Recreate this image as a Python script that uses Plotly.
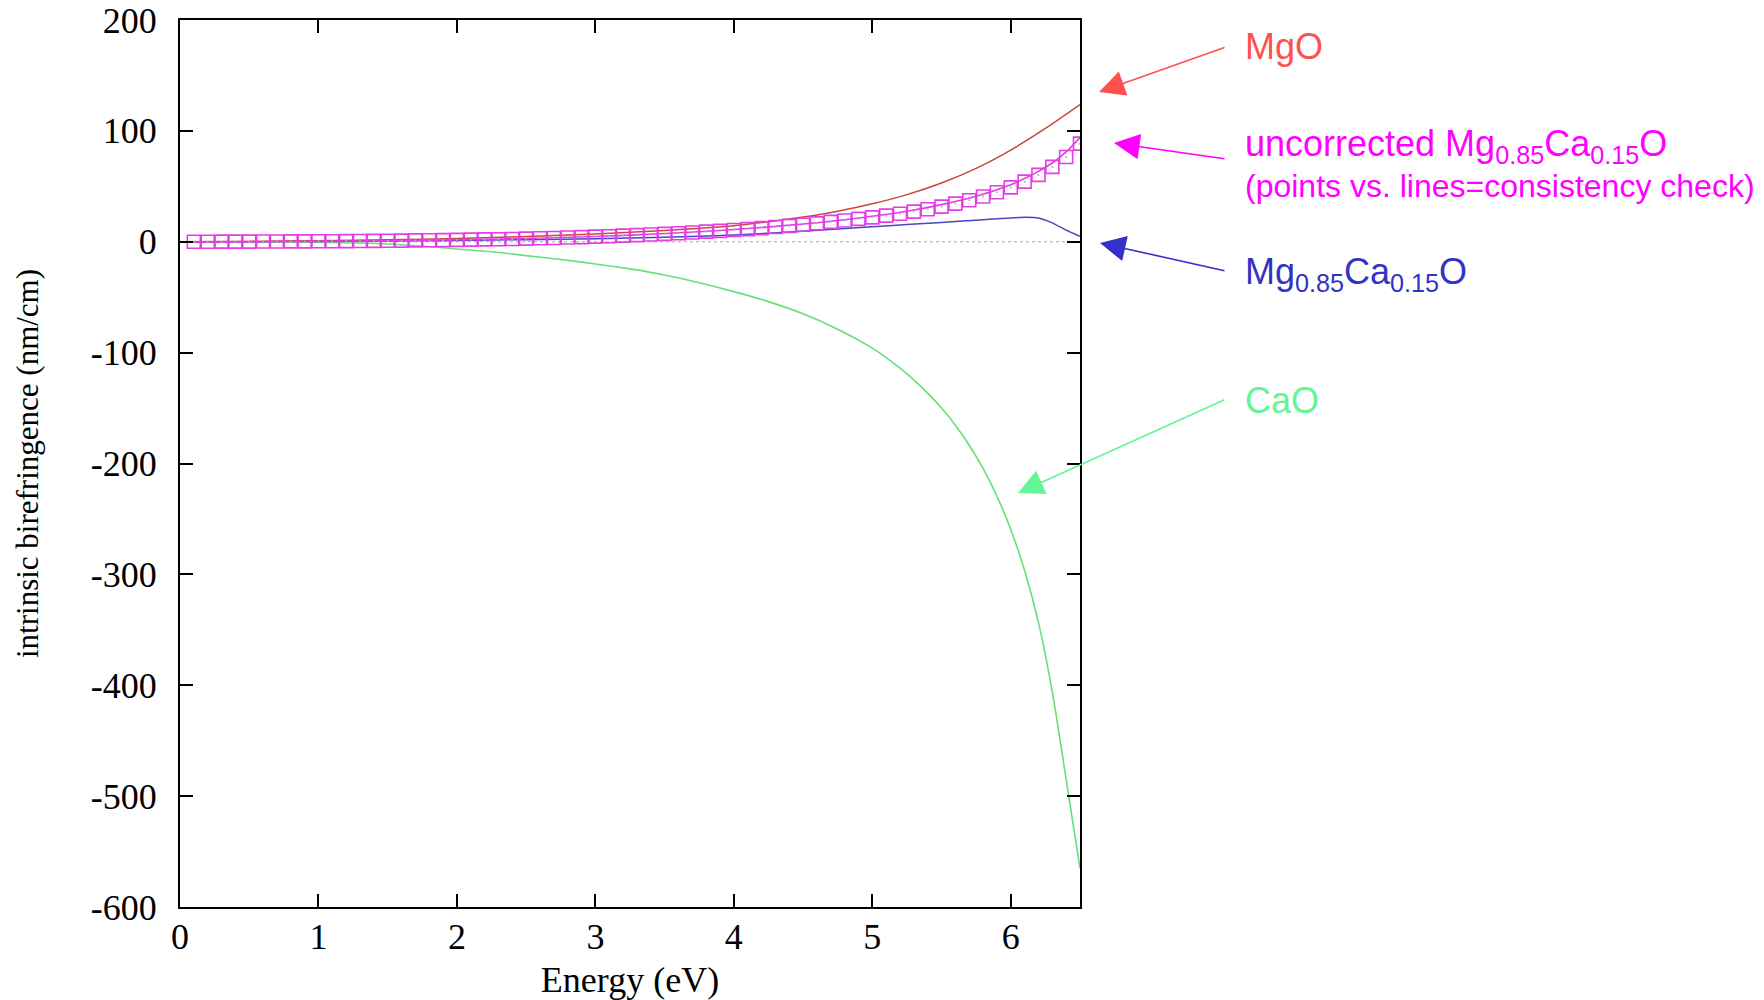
import plotly.graph_objects as go

# ---------------- data ----------------
mgo_E = [0.0, 0.5, 1.0, 1.5, 2.0, 2.5, 3.0, 3.5, 4.0, 4.25, 4.5, 4.75, 5.0, 5.25, 5.5, 5.75, 6.0, 6.25, 6.5]
mgo_B = [0.0, 0.3, 0.9, 1.8, 3.0, 4.7, 7.0, 10.2, 14.5, 18.0, 22.3, 27.6, 34.2, 42.5, 53.0, 66.2, 82.7, 102.2, 123.7]

mix_E = [0.0, 0.5, 1.0, 1.5, 2.0, 2.5, 3.0, 3.5, 4.0, 4.5, 5.0, 5.25, 5.5, 5.75, 6.0, 6.1, 6.2, 6.3, 6.4, 6.5]
mix_B = [0.0, 0.1, 0.3, 0.7, 1.2, 1.9, 2.8, 4.0, 6.0, 9.5, 13.5, 15.5, 17.3, 19.5, 21.5, 22.0, 21.5, 17.0, 10.5, 5.0]

cao_E = [0.0, 0.5, 1.0, 1.5, 1.75, 2.0, 2.25, 2.5, 2.75, 3.0, 3.25, 3.5, 3.75, 4.0, 4.25, 4.5, 4.75,
         5.0, 5.1, 5.2, 5.3, 5.4, 5.5, 5.6, 5.7, 5.8, 5.9, 6.0, 6.1, 6.2, 6.3, 6.4, 6.5]
cao_B = [0.0, 0.0, -0.5, -2.0, -4.0, -6.5, -9.0, -12.5, -16.0, -20.0, -24.5, -30.0, -37.0, -45.0, -54.0, -65.0, -79.0,
         -96.0, -104.5, -114.0, -124.5, -136.5, -150.0, -165.5, -183.5, -204.5, -229.5, -259.5, -296.5, -343.5,
         -406.0, -485.0, -565.0]

unc_line_E = [0.0, 0.5, 1.0, 1.5, 2.0, 2.5, 3.0, 3.5, 4.0, 4.5, 4.75, 5.0, 5.25, 5.5, 5.75, 6.0, 6.1, 6.2, 6.3, 6.4, 6.5]
unc_line_B = [0.0, 0.1, 0.4, 0.9, 1.8, 2.9, 4.8, 7.4, 11.0, 16.0, 19.2, 23.0, 27.5, 33.5, 41.0, 51.5, 57.0, 63.5, 71.0, 81.0, 94.0]

unc_pts_E = [round(0.1 * i, 1) for i in range(1, 66)]
unc_pts_B = [0.0, 0.0, 0.1, 0.1, 0.1, 0.2, 0.2, 0.3, 0.3, 0.4,
             0.5, 0.6, 0.7, 0.8, 0.9, 1.0, 1.2, 1.3, 1.5, 1.7,
             1.9, 2.1, 2.3, 2.5, 2.8, 3.1, 3.4, 3.8, 4.2, 4.6,
             5.0, 5.5, 6.0, 6.5, 7.1, 7.7, 8.4, 9.1, 9.8, 10.6,
             11.4, 12.3, 13.3, 14.3, 15.4, 16.6, 17.9, 19.2, 20.6, 22.0,
             23.6, 25.3, 27.2, 29.3, 31.7, 34.4, 37.4, 40.8, 44.6, 49.0,
             54.2, 60.3, 67.5, 76.5, 88.5]

zero_E = [0.0, 6.5]
zero_B = [0.0, 0.0]

x_ticks = [0, 1, 2, 3, 4, 5, 6]
y_ticks = [200, 100, 0, -100, -200, -300, -400, -500, -600]

# ---------------- figure ----------------
fig = go.Figure()

fig.add_trace(go.Scatter(x=zero_E, y=zero_B, mode="lines",
                         line=dict(color="rgb(170,170,170)", width=1.2, dash="dot"),
                         hoverinfo="skip", showlegend=False))
fig.add_trace(go.Scatter(x=cao_E, y=cao_B, mode="lines",
                         line=dict(color="rgb(100,225,120)", width=1.6, shape="spline", smoothing=0.8),
                         showlegend=False))
fig.add_trace(go.Scatter(x=mix_E, y=mix_B, mode="lines",
                         line=dict(color="rgb(70,70,200)", width=1.5, shape="spline", smoothing=0.6),
                         showlegend=False))
fig.add_trace(go.Scatter(x=mgo_E, y=mgo_B, mode="lines",
                         line=dict(color="rgb(200,70,60)", width=1.5, shape="spline", smoothing=0.8),
                         showlegend=False))
fig.add_trace(go.Scatter(x=unc_line_E, y=unc_line_B, mode="lines",
                         line=dict(color="rgb(225,60,225)", width=1.6, shape="spline", smoothing=0.8),
                         showlegend=False))
fig.add_trace(go.Scatter(x=unc_pts_E, y=unc_pts_B, mode="markers",
                         marker=dict(symbol="square-open", size=13, color="rgb(230,60,230)",
                                     line=dict(width=1.6, color="rgb(230,60,230)")),
                         showlegend=False))
fig.add_trace(go.Scatter(x=unc_pts_E, y=unc_pts_B, mode="markers",
                         marker=dict(symbol="circle", size=2, color="rgb(200,160,200)"),
                         showlegend=False))

serif = "Liberation Serif, Times New Roman, serif"
sans = "Liberation Sans, Arial, sans-serif"

# target plot area in page pixels
PL, PT, PW, PH = 180, 20, 900, 887
BODY = 8  # default page body margin
W, H = 1756, 992
L, T = PL - BODY, PT - BODY
R = W - L - PW
B = H - T - PH


def px(X):
    return (X - PL) / PW


def py(Y):
    return (PT + PH - Y) / PH


annotations = []
arrows = [
    # head (X,Y), tail (X,Y), color
    ((1099, 92), (1226, 47), "rgb(255,80,80)"),
    ((1114, 143), (1226, 159), "rgb(255,0,255)"),
    ((1100, 243), (1226, 271), "rgb(50,50,200)"),
    ((1018, 493), (1226, 399), "rgb(100,245,150)"),
]
for (hx, hy), (tx, ty), col in arrows:
    annotations.append(dict(x=px(hx), y=py(hy), xref="paper", yref="paper",
                            ax=tx - hx, ay=ty - hy, text="", showarrow=True,
                            arrowhead=2, arrowsize=3.2, arrowwidth=1.6, arrowcolor=col))

texts = [
    ("MgO", 47, 36, "rgb(255,80,80)"),
    ("uncorrected Mg<sub>0.85</sub>Ca<sub>0.15</sub>O", 146, 36, "rgb(255,0,255)"),
    ("(points vs. lines=consistency check)", 186, 32, "rgb(255,0,255)"),
    ("Mg<sub>0.85</sub>Ca<sub>0.15</sub>O", 274, 36, "rgb(50,50,200)"),
    ("CaO", 400, 36, "rgb(100,245,150)"),
]
for t, y, s, col in texts:
    annotations.append(dict(x=px(1243), y=py(y), xref="paper", yref="paper",
                            text=t, showarrow=False, xanchor="left", yanchor="middle",
                            font=dict(family=sans, size=s, color=col)))

axis_common = dict(showline=True, linecolor="black", linewidth=2, mirror="ticks",
                   ticks="inside", ticklen=13, tickwidth=2, tickcolor="black",
                   showgrid=False, zeroline=False, automargin=False,
                   ticklabeloverflow="allow",
                   tickfont=dict(family=serif, size=36, color="black"))

fig.update_layout(
    width=W, height=H,
    margin=dict(l=L, r=R, t=T, b=B, pad=0, autoexpand=False),
    paper_bgcolor="white", plot_bgcolor="white",
    showlegend=False,
    xaxis=dict(range=[0, 6.5], tickvals=x_ticks, ticktext=[str(v) for v in x_ticks],
               title=dict(text="Energy (eV)", font=dict(family=serif, size=36, color="black"), standoff=44),
               ticklabelstandoff=-3, **axis_common),
    yaxis=dict(range=[-600, 200], tickvals=y_ticks, ticktext=[str(v) for v in y_ticks],
               title=dict(text="intrinsic birefringence (nm/cm)", font=dict(family=serif, size=31, color="black"), standoff=43),
               ticklabelstandoff=14, **axis_common),
    annotations=annotations,
)

fig.write_html("out.html")
